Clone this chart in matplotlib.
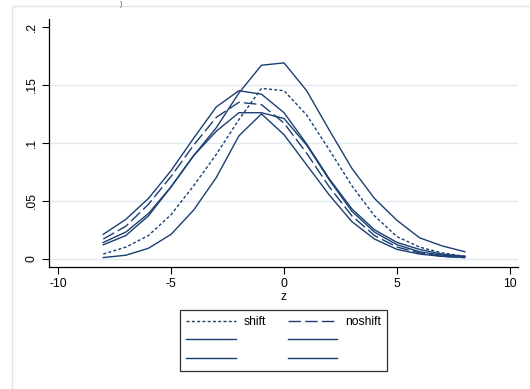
import matplotlib
matplotlib.use("Agg")
import matplotlib.pyplot as plt
from matplotlib.patches import Rectangle

plt.rcParams['font.family'] = ['Liberation Sans', 'DejaVu Sans']

z = [-8, -7, -6, -5, -4, -3, -2, -1, 0, 1, 2, 3, 4, 5, 6, 7, 8]

shift = [0.004, 0.010, 0.020, 0.038, 0.063, 0.090, 0.120, 0.147, 0.145,
         0.124, 0.094, 0.063, 0.037, 0.019, 0.010, 0.005, 0.002]
noshift = [0.017, 0.028, 0.047, 0.071, 0.098, 0.122, 0.135, 0.133, 0.117,
           0.091, 0.062, 0.037, 0.020, 0.010, 0.005, 0.002, 0.001]
s1 = [0.021, 0.034, 0.052, 0.076, 0.104, 0.131, 0.145, 0.142, 0.126,
      0.099, 0.069, 0.043, 0.025, 0.014, 0.008, 0.004, 0.002]
s2 = [0.012, 0.020, 0.037, 0.062, 0.089, 0.113, 0.143, 0.167, 0.169,
      0.145, 0.111, 0.078, 0.052, 0.033, 0.018, 0.011, 0.006]
s3 = [0.014, 0.023, 0.039, 0.062, 0.089, 0.110, 0.126, 0.126, 0.121,
      0.098, 0.068, 0.041, 0.023, 0.012, 0.006, 0.003, 0.002]
s4 = [0.001, 0.003, 0.009, 0.021, 0.042, 0.070, 0.106, 0.125, 0.107,
      0.081, 0.055, 0.032, 0.017, 0.008, 0.004, 0.002, 0.001]

labels = ["shift", "noshift", "", "", "", ""]
xticks = [-10, -5, 0, 5, 10]
yticks = [0, 0.05, 0.1, 0.15, 0.2]
yticklabels = ["0", ".05", ".1", ".15", ".2"]

W, H = 530, 389
fig = plt.figure(figsize=(W / 100, H / 100), dpi=100)
fig.patch.set_facecolor("white")

# outer light frame
fig.patches.append(Rectangle((12 / W, -0.05), 1.2, 1 - 6 / H + 0.05,
                             transform=fig.transFigure, fill=False,
                             edgecolor="#dde5ef", linewidth=1.0))
fig.text(121 / W, 1 - 0.5 / H, ")", fontsize=5, ha="center", va="top", color="#444444")

ax = fig.add_axes([49 / W, 1 - 267 / H, (518 - 49) / W, (267 - 19) / H])
ax.set_facecolor("white")

col = "#1a3f73"
lw = 1.0
series = [shift, noshift, s1, s2, s3, s4]
styles = [(0, (2.2, 1.6)), (0, (9, 3)), "-", "-", "-", "-"]
handles = []
for ys, ls, lab in zip(series, styles, labels):
    h, = ax.plot(z, ys, color=col, lw=lw, linestyle=ls, label=lab)
    handles.append(h)

for yv in yticks[:-1]:
    ax.axhline(yv, color="#e1e8f0", lw=1.0, zorder=0)

ax.set_xlim(-10.4, 10.35)
ax.set_ylim(-0.00716, 0.2069)
ax.set_xticks(xticks)
ax.set_xticklabels([str(v) for v in xticks], fontsize=8.7)
ax.set_yticks(yticks)
ax.set_yticklabels(yticklabels, fontsize=8.7, rotation=90, va="center")
ax.tick_params(direction="out", length=5, width=0.8, color="black", pad=3)
for s in ["top", "right"]:
    ax.spines[s].set_visible(False)
for s in ["left", "bottom"]:
    ax.spines[s].set_linewidth(0.9)
    ax.spines[s].set_color("black")
ax.set_xlabel("z", fontsize=8.7, labelpad=1)

order = [0, 2, 4, 1, 3, 5]
leg = fig.legend([handles[i] for i in order], [labels[i] for i in order],
                 ncol=2, loc="upper center",
                 bbox_to_anchor=(283.5 / W, 1 - 310 / H),
                 fontsize=8.7, frameon=True, fancybox=False,
                 edgecolor="black", handlelength=4.1, handletextpad=0.65,
                 columnspacing=1.8, labelspacing=0.55, borderpad=0.5,
                 borderaxespad=0.0)
leg.get_frame().set_linewidth(0.9)

fig.savefig("out.png", dpi=100, facecolor="white")
